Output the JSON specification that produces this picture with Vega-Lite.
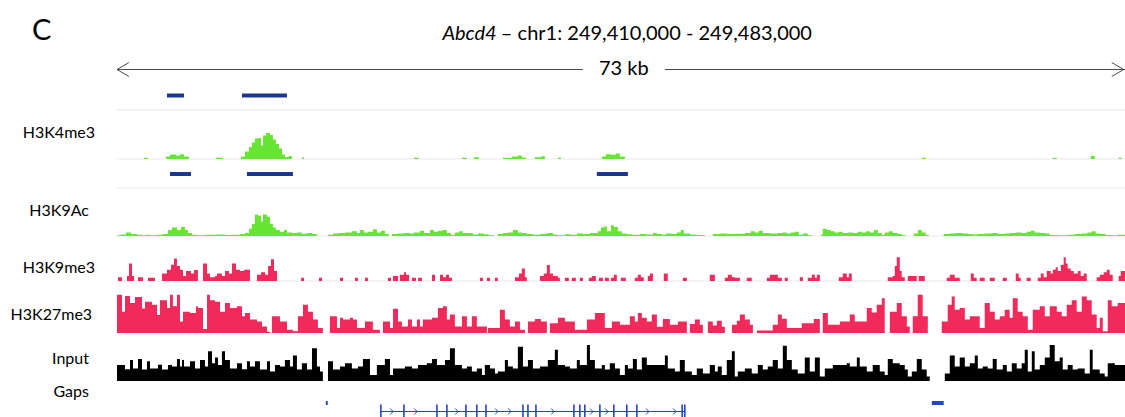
{
"$schema":"https://vega.github.io/schema/vega-lite/v6.json",
"width":1125,"height":417,"autosize":{"type":"none"},"padding":0,"background":"white",
"config":{"view":{"stroke":null},"font":"Lato","axisX":{"disable":true},"text":{"font":"Lato"}},
"datasets":{
"k4":[{"x":0,"v":0},{"x":1.95,"v":0.4},{"x":2.24,"v":0},{"x":3.55,"v":0.8},{"x":3.84,"v":1.5},{"x":4.27,"v":1.2},{"x":4.56,"v":1.6},{"x":4.85,"v":0.8},{"x":5.21,"v":0},{"x":7.17,"v":0.4},{"x":7.67,"v":0},{"x":8.98,"v":0.8},{"x":9.27,"v":2.5},{"x":9.56,"v":4},{"x":9.77,"v":5.5},{"x":9.99,"v":6.8},{"x":10.21,"v":7},{"x":10.43,"v":4.5},{"x":10.57,"v":7.8},{"x":10.79,"v":8.7},{"x":11.08,"v":8},{"x":11.29,"v":6.5},{"x":11.51,"v":5},{"x":11.73,"v":3.5},{"x":11.95,"v":1.5},{"x":12.16,"v":0.7},{"x":12.45,"v":1},{"x":12.67,"v":0},{"x":13.39,"v":0.5},{"x":13.54,"v":0},{"x":21.5,"v":0.4},{"x":21.86,"v":0},{"x":24.98,"v":0.4},{"x":25.34,"v":0},{"x":25.85,"v":0.6},{"x":26.21,"v":0},{"x":27.95,"v":0.4},{"x":28.6,"v":0.8},{"x":29.03,"v":1.2},{"x":29.32,"v":0.5},{"x":29.61,"v":0},{"x":30.26,"v":0.6},{"x":30.7,"v":0.9},{"x":30.99,"v":0},{"x":31.93,"v":0.4},{"x":32.15,"v":0},{"x":35.11,"v":0.8},{"x":35.4,"v":1.6},{"x":35.77,"v":1.4},{"x":36.13,"v":1.8},{"x":36.42,"v":0.8},{"x":36.78,"v":0},{"x":58.28,"v":0.4},{"x":58.57,"v":0},{"x":67.77,"v":0.4},{"x":68.06,"v":0},{"x":70.52,"v":1},{"x":70.81,"v":0},{"x":72.54,"v":0.4},{"x":72.76,"v":0},{"x":73,"v":0}],
"k9ac":[{"x":0,"v":0.3},{"x":0.29,"v":0.6},{"x":0.65,"v":1.5},{"x":1.01,"v":0.8},{"x":1.45,"v":0.5},{"x":1.81,"v":0.3},{"x":2.1,"v":0.5},{"x":2.39,"v":0.3},{"x":2.9,"v":0.5},{"x":3.33,"v":0.8},{"x":3.69,"v":2.5},{"x":3.98,"v":3.5},{"x":4.34,"v":2.5},{"x":4.63,"v":3.8},{"x":4.92,"v":2.5},{"x":5.14,"v":1.2},{"x":5.43,"v":0.5},{"x":5.79,"v":0.3},{"x":6.37,"v":0.5},{"x":7.1,"v":0.6},{"x":7.82,"v":0.4},{"x":8.33,"v":0.5},{"x":8.91,"v":0.8},{"x":9.27,"v":1.2},{"x":9.56,"v":3},{"x":9.77,"v":5},{"x":9.99,"v":9},{"x":10.21,"v":8.5},{"x":10.43,"v":6},{"x":10.57,"v":9},{"x":10.86,"v":8},{"x":11.08,"v":5},{"x":11.29,"v":3.5},{"x":11.51,"v":2.5},{"x":11.8,"v":1.8},{"x":12.09,"v":2.5},{"x":12.31,"v":1.5},{"x":12.67,"v":1.2},{"x":13.03,"v":1.5},{"x":13.39,"v":0.9},{"x":13.76,"v":1.2},{"x":14.12,"v":0.8},{"x":14.48,"v":0},{"x":15.28,"v":0.5},{"x":15.64,"v":1},{"x":16,"v":1.2},{"x":16.51,"v":1.5},{"x":17.01,"v":2},{"x":17.38,"v":1.2},{"x":17.59,"v":2.5},{"x":17.88,"v":1.5},{"x":18.17,"v":1.8},{"x":18.53,"v":2.8},{"x":18.82,"v":1.5},{"x":19.11,"v":2.2},{"x":19.4,"v":0.8},{"x":19.69,"v":0},{"x":19.91,"v":0.8},{"x":20.34,"v":1},{"x":20.78,"v":1.3},{"x":21.21,"v":1},{"x":21.5,"v":1.5},{"x":21.94,"v":2.2},{"x":22.23,"v":1.2},{"x":22.66,"v":2.5},{"x":22.95,"v":1.8},{"x":23.24,"v":2.2},{"x":23.6,"v":2.5},{"x":23.89,"v":1.2},{"x":24.18,"v":0.5},{"x":24.47,"v":1.5},{"x":24.76,"v":2},{"x":25.05,"v":1.2},{"x":25.34,"v":1.2},{"x":25.77,"v":0.6},{"x":26.14,"v":1},{"x":26.57,"v":0.7},{"x":26.93,"v":0.3},{"x":27.29,"v":0},{"x":27.58,"v":0.8},{"x":27.95,"v":1.2},{"x":28.31,"v":1.5},{"x":28.67,"v":2.5},{"x":29.03,"v":1.5},{"x":29.32,"v":1.2},{"x":29.68,"v":0.8},{"x":30.12,"v":0.5},{"x":30.63,"v":0.8},{"x":31.13,"v":1.2},{"x":31.57,"v":0.6},{"x":31.86,"v":0.3},{"x":32.44,"v":0.7},{"x":32.87,"v":0.5},{"x":33.3,"v":1},{"x":33.74,"v":0.8},{"x":34.25,"v":1.2},{"x":34.82,"v":2},{"x":35.04,"v":3.5},{"x":35.26,"v":4},{"x":35.48,"v":2},{"x":35.77,"v":4.5},{"x":35.98,"v":3.8},{"x":36.27,"v":2},{"x":36.56,"v":1},{"x":36.92,"v":0.7},{"x":37.29,"v":0.5},{"x":37.87,"v":0.8},{"x":38.3,"v":0.6},{"x":38.81,"v":1.2},{"x":39.1,"v":0.8},{"x":39.46,"v":0.5},{"x":39.75,"v":1},{"x":40.18,"v":0.8},{"x":40.54,"v":1.5},{"x":40.83,"v":2.5},{"x":41.05,"v":1},{"x":41.49,"v":0.6},{"x":41.92,"v":0.4},{"x":42.57,"v":0},{"x":43.15,"v":0.8},{"x":43.66,"v":1},{"x":44.16,"v":0.8},{"x":44.74,"v":0.9},{"x":45.47,"v":1.2},{"x":45.9,"v":2},{"x":46.19,"v":1.5},{"x":46.48,"v":2.2},{"x":46.77,"v":1.2},{"x":47.28,"v":1},{"x":47.86,"v":1.2},{"x":48.22,"v":1.5},{"x":48.51,"v":1},{"x":48.8,"v":1.5},{"x":49.09,"v":1.8},{"x":49.38,"v":0.5},{"x":49.67,"v":1},{"x":50.03,"v":0.3},{"x":50.32,"v":0},{"x":50.97,"v":0.5},{"x":51.11,"v":3},{"x":51.4,"v":2.5},{"x":51.69,"v":2},{"x":51.98,"v":1.5},{"x":52.27,"v":1.8},{"x":52.56,"v":1.2},{"x":52.92,"v":1.5},{"x":53.29,"v":1.3},{"x":53.65,"v":1.8},{"x":53.94,"v":1.5},{"x":54.23,"v":2},{"x":54.52,"v":1.5},{"x":54.81,"v":2.5},{"x":55.1,"v":1.2},{"x":55.39,"v":0.5},{"x":55.6,"v":1.5},{"x":55.89,"v":2},{"x":56.18,"v":1.2},{"x":56.54,"v":0.8},{"x":56.83,"v":0.3},{"x":57.12,"v":0},{"x":57.7,"v":1},{"x":57.99,"v":2.5},{"x":58.28,"v":1.5},{"x":58.57,"v":0.5},{"x":58.79,"v":0},{"x":59.87,"v":0.8},{"x":60.31,"v":1},{"x":60.74,"v":1.2},{"x":61.25,"v":1},{"x":61.61,"v":0.8},{"x":61.97,"v":0.6},{"x":62.34,"v":0.8},{"x":62.84,"v":1},{"x":63.35,"v":1.2},{"x":63.78,"v":0.8},{"x":64.22,"v":1},{"x":64.65,"v":1.2},{"x":65.09,"v":1.5},{"x":65.52,"v":1.3},{"x":65.88,"v":1.8},{"x":66.17,"v":2.2},{"x":66.46,"v":1.5},{"x":66.83,"v":1.2},{"x":67.19,"v":1},{"x":67.55,"v":0.4},{"x":68.13,"v":0.3},{"x":68.85,"v":0.5},{"x":69.36,"v":0.8},{"x":69.87,"v":1},{"x":70.3,"v":1.5},{"x":70.59,"v":2},{"x":70.88,"v":1},{"x":71.24,"v":0.8},{"x":71.6,"v":0.4},{"x":72.04,"v":0.3},{"x":72.47,"v":0.5},{"x":73,"v":0}],
"k9me3":[{"x":0,"v":0},{"x":0.07,"v":1.5},{"x":0.36,"v":0},{"x":0.72,"v":2},{"x":0.87,"v":7},{"x":1.09,"v":2},{"x":1.23,"v":0},{"x":1.52,"v":1.5},{"x":1.88,"v":0},{"x":2.24,"v":1.3},{"x":2.75,"v":0},{"x":3.26,"v":3},{"x":3.62,"v":4.5},{"x":3.91,"v":6.5},{"x":4.13,"v":9},{"x":4.34,"v":6},{"x":4.56,"v":4.5},{"x":4.78,"v":2},{"x":5,"v":4},{"x":5.36,"v":3},{"x":5.57,"v":4.4},{"x":5.86,"v":0},{"x":6.23,"v":7},{"x":6.52,"v":3},{"x":6.73,"v":1.5},{"x":7.1,"v":2},{"x":7.24,"v":3},{"x":7.6,"v":2},{"x":7.82,"v":4},{"x":8.11,"v":3},{"x":8.33,"v":7},{"x":8.62,"v":4.5},{"x":8.91,"v":4},{"x":9.19,"v":4.5},{"x":9.63,"v":0},{"x":10.14,"v":2.5},{"x":10.43,"v":3.5},{"x":10.72,"v":2.5},{"x":10.94,"v":6},{"x":11.15,"v":8.7},{"x":11.37,"v":4},{"x":11.59,"v":0},{"x":13.33,"v":1.3},{"x":13.54,"v":0},{"x":14.63,"v":1.3},{"x":14.85,"v":0},{"x":16.15,"v":1.3},{"x":16.37,"v":0},{"x":17.24,"v":1.3},{"x":17.45,"v":0},{"x":17.96,"v":1.3},{"x":18.17,"v":0},{"x":19.62,"v":1.3},{"x":19.84,"v":0},{"x":19.99,"v":2},{"x":20.35,"v":0},{"x":20.49,"v":2.5},{"x":20.78,"v":3.5},{"x":20.93,"v":2.5},{"x":21.15,"v":0},{"x":21.36,"v":1.3},{"x":21.65,"v":0},{"x":21.8,"v":1.3},{"x":22.08,"v":0},{"x":22.81,"v":2.5},{"x":23.03,"v":0},{"x":23.39,"v":2.5},{"x":23.61,"v":1.5},{"x":23.82,"v":2.5},{"x":24.04,"v":1.3},{"x":24.26,"v":0},{"x":26.28,"v":1.3},{"x":26.5,"v":0},{"x":26.79,"v":1.3},{"x":27.01,"v":0},{"x":27.37,"v":1.3},{"x":27.58,"v":0},{"x":28.82,"v":1.5},{"x":29.11,"v":3},{"x":29.32,"v":5},{"x":29.54,"v":1.5},{"x":29.68,"v":0},{"x":30.63,"v":2},{"x":30.91,"v":3},{"x":31.13,"v":6.4},{"x":31.35,"v":3},{"x":31.57,"v":2},{"x":31.93,"v":1.3},{"x":32.07,"v":0},{"x":32.44,"v":1.3},{"x":32.72,"v":0},{"x":32.94,"v":1.3},{"x":33.23,"v":0},{"x":33.52,"v":1.3},{"x":33.74,"v":0},{"x":34.17,"v":1.3},{"x":34.39,"v":2},{"x":34.68,"v":0},{"x":34.9,"v":1.3},{"x":35.19,"v":0},{"x":35.33,"v":1.3},{"x":35.62,"v":0},{"x":35.77,"v":1.3},{"x":35.98,"v":2.5},{"x":36.2,"v":0},{"x":36.49,"v":1.3},{"x":36.85,"v":0},{"x":37.5,"v":1.3},{"x":37.72,"v":2.5},{"x":37.94,"v":1.5},{"x":38.15,"v":0},{"x":38.44,"v":2},{"x":38.59,"v":3},{"x":38.81,"v":0},{"x":39.6,"v":3},{"x":39.89,"v":0},{"x":40.98,"v":1.3},{"x":41.27,"v":0},{"x":42.93,"v":2.5},{"x":43.3,"v":0},{"x":44.02,"v":1.3},{"x":44.24,"v":2.5},{"x":44.53,"v":1.5},{"x":44.74,"v":1.3},{"x":45.11,"v":0},{"x":45.61,"v":1.3},{"x":45.97,"v":0},{"x":47.06,"v":1.3},{"x":47.28,"v":2.5},{"x":47.86,"v":1.3},{"x":48.15,"v":0},{"x":48.36,"v":1.3},{"x":48.58,"v":0},{"x":49.45,"v":1.5},{"x":49.67,"v":0},{"x":50.03,"v":1.3},{"x":50.32,"v":2.5},{"x":50.54,"v":1.3},{"x":50.68,"v":2.5},{"x":50.9,"v":0},{"x":52.27,"v":1.5},{"x":52.56,"v":3},{"x":52.85,"v":1.5},{"x":53,"v":3},{"x":53.21,"v":0},{"x":55.82,"v":1.5},{"x":56.18,"v":2},{"x":56.33,"v":6},{"x":56.47,"v":9.5},{"x":56.69,"v":4},{"x":56.83,"v":1.5},{"x":57.05,"v":0},{"x":57.27,"v":2},{"x":57.92,"v":0},{"x":58.06,"v":2},{"x":58.5,"v":0},{"x":60.09,"v":1.3},{"x":60.31,"v":2.5},{"x":60.67,"v":1.3},{"x":61.03,"v":0},{"x":61.83,"v":3},{"x":62.05,"v":1.3},{"x":62.26,"v":0},{"x":62.48,"v":1.3},{"x":62.84,"v":0},{"x":63.21,"v":1.3},{"x":63.57,"v":0},{"x":64.15,"v":1.3},{"x":64.44,"v":0},{"x":65.09,"v":3},{"x":65.3,"v":1.3},{"x":65.45,"v":0},{"x":65.88,"v":1.3},{"x":66.17,"v":0},{"x":66.68,"v":1.3},{"x":66.9,"v":3},{"x":67.11,"v":1.5},{"x":67.33,"v":4},{"x":67.62,"v":3},{"x":67.77,"v":4.5},{"x":67.98,"v":5.5},{"x":68.13,"v":4},{"x":68.35,"v":6.5},{"x":68.56,"v":9.5},{"x":68.71,"v":7},{"x":68.85,"v":5},{"x":69.07,"v":4},{"x":69.29,"v":3},{"x":69.58,"v":4},{"x":69.79,"v":2},{"x":70.01,"v":3},{"x":70.23,"v":0},{"x":70.95,"v":1.5},{"x":71.17,"v":2.5},{"x":71.46,"v":3.5},{"x":71.68,"v":4.5},{"x":71.89,"v":2.5},{"x":72.11,"v":0},{"x":72.54,"v":2},{"x":72.69,"v":4},{"x":73,"v":0}],
"k27":[{"x":0,"v":9.3},{"x":0.36,"v":5.2},{"x":0.58,"v":9},{"x":0.94,"v":7.3},{"x":1.3,"v":8.8},{"x":1.81,"v":6},{"x":2.03,"v":7.6},{"x":2.53,"v":6.9},{"x":2.9,"v":4.4},{"x":3.11,"v":8},{"x":3.62,"v":6.1},{"x":3.84,"v":9.3},{"x":4.05,"v":6.5},{"x":4.34,"v":9.3},{"x":4.56,"v":2.8},{"x":4.78,"v":5.2},{"x":5.29,"v":4.9},{"x":5.72,"v":6.5},{"x":5.86,"v":6.1},{"x":6.23,"v":1},{"x":6.52,"v":9.3},{"x":6.73,"v":8},{"x":7.1,"v":7.6},{"x":7.46,"v":5.2},{"x":7.82,"v":7.3},{"x":8.18,"v":6.1},{"x":8.69,"v":6.5},{"x":9.05,"v":4.1},{"x":9.27,"v":4.9},{"x":9.63,"v":3.3},{"x":10.14,"v":2.8},{"x":10.5,"v":1.6},{"x":10.86,"v":0.3},{"x":11.08,"v":0},{"x":11.22,"v":4.1},{"x":11.8,"v":2.8},{"x":12.31,"v":0.8},{"x":12.74,"v":0.4},{"x":13.1,"v":4.1},{"x":13.47,"v":6.9},{"x":13.83,"v":5.2},{"x":14.19,"v":3.3},{"x":14.55,"v":1.2},{"x":14.91,"v":0},{"x":15.42,"v":4.1},{"x":15.93,"v":1.2},{"x":16.15,"v":3.7},{"x":16.37,"v":3.3},{"x":16.87,"v":3.7},{"x":17.09,"v":3.3},{"x":17.38,"v":1.2},{"x":17.96,"v":2.8},{"x":18.53,"v":0.8},{"x":19.04,"v":0},{"x":19.26,"v":2.8},{"x":19.77,"v":1.2},{"x":19.99,"v":5.9},{"x":20.35,"v":2.8},{"x":20.63,"v":1.6},{"x":21.07,"v":3.3},{"x":21.36,"v":1.6},{"x":21.72,"v":3.3},{"x":21.94,"v":1.6},{"x":22.15,"v":3.3},{"x":22.81,"v":3.7},{"x":23.24,"v":6.1},{"x":23.61,"v":6.5},{"x":23.89,"v":3.3},{"x":24.11,"v":4.5},{"x":24.47,"v":1.6},{"x":24.98,"v":4.1},{"x":25.34,"v":1.6},{"x":25.7,"v":4.1},{"x":26.06,"v":1.6},{"x":26.79,"v":0},{"x":26.86,"v":1.2},{"x":27.73,"v":5.7},{"x":28.09,"v":3.3},{"x":28.45,"v":1.6},{"x":28.82,"v":2.8},{"x":29.18,"v":0.8},{"x":29.54,"v":0},{"x":29.76,"v":2.8},{"x":30.26,"v":3.4},{"x":30.7,"v":2.8},{"x":31.13,"v":0},{"x":31.35,"v":2.4},{"x":31.93,"v":3.7},{"x":32.44,"v":2.8},{"x":33.16,"v":0.8},{"x":34.03,"v":3.3},{"x":34.61,"v":4.9},{"x":35.33,"v":1.2},{"x":35.84,"v":2.8},{"x":36.42,"v":2},{"x":37.14,"v":4.1},{"x":37.5,"v":2.8},{"x":37.72,"v":4.9},{"x":38.01,"v":3.7},{"x":38.37,"v":2.8},{"x":38.73,"v":4.5},{"x":39.1,"v":1.5},{"x":39.53,"v":3.4},{"x":40.04,"v":2},{"x":40.62,"v":2.8},{"x":41.27,"v":0},{"x":41.49,"v":2.2},{"x":41.85,"v":3.3},{"x":42.21,"v":2},{"x":42.43,"v":0},{"x":42.79,"v":2.8},{"x":43.15,"v":1.8},{"x":43.44,"v":3},{"x":43.8,"v":1.5},{"x":44.02,"v":0},{"x":44.53,"v":2},{"x":44.89,"v":3},{"x":45.11,"v":4.5},{"x":45.47,"v":3.3},{"x":45.83,"v":2},{"x":46.05,"v":0},{"x":46.34,"v":0.6},{"x":47.49,"v":2},{"x":47.86,"v":4.5},{"x":48.15,"v":3.5},{"x":48.51,"v":1.2},{"x":49.59,"v":2.4},{"x":50.46,"v":3.4},{"x":50.9,"v":0},{"x":51.11,"v":4.9},{"x":51.48,"v":2},{"x":52.35,"v":2.8},{"x":53.07,"v":4.5},{"x":53.43,"v":2.8},{"x":54.3,"v":6.1},{"x":54.66,"v":5},{"x":55.02,"v":6.9},{"x":55.39,"v":8.5},{"x":55.6,"v":0},{"x":55.97,"v":5.2},{"x":56.47,"v":7.3},{"x":56.83,"v":4.1},{"x":57.2,"v":1.6},{"x":57.41,"v":0},{"x":57.63,"v":4.1},{"x":57.99,"v":9.3},{"x":58.35,"v":4.1},{"x":58.72,"v":0},{"x":59.73,"v":2.8},{"x":60.16,"v":6.9},{"x":60.45,"v":8.9},{"x":60.67,"v":5.7},{"x":61.03,"v":6.1},{"x":61.4,"v":3.3},{"x":61.76,"v":4.1},{"x":62.48,"v":1.2},{"x":62.84,"v":7.3},{"x":63.21,"v":5.2},{"x":63.57,"v":3.3},{"x":63.93,"v":4.1},{"x":64.29,"v":5.7},{"x":64.65,"v":3.7},{"x":64.87,"v":8.5},{"x":65.23,"v":5.2},{"x":65.59,"v":4.1},{"x":65.96,"v":0.8},{"x":66.32,"v":5.7},{"x":66.83,"v":6.5},{"x":67.19,"v":4.1},{"x":67.55,"v":6.5},{"x":68.06,"v":5.2},{"x":68.42,"v":4.1},{"x":68.78,"v":6.9},{"x":69.14,"v":8},{"x":69.5,"v":5.2},{"x":69.87,"v":8.9},{"x":70.23,"v":8},{"x":70.59,"v":4.5},{"x":70.95,"v":1.2},{"x":71.17,"v":3.7},{"x":71.39,"v":0.4},{"x":71.75,"v":8},{"x":72.04,"v":6.5},{"x":72.47,"v":7.3},{"x":73,"v":0}],
"inp":[{"x":0,"v":4.2},{"x":0.58,"v":3.1},{"x":0.94,"v":5.5},{"x":1.16,"v":3.3},{"x":1.52,"v":5.8},{"x":1.81,"v":3},{"x":2.17,"v":5.2},{"x":2.39,"v":3.3},{"x":2.97,"v":4.3},{"x":3.26,"v":3},{"x":3.69,"v":4.2},{"x":3.98,"v":3.8},{"x":4.34,"v":5.8},{"x":4.56,"v":3.8},{"x":4.71,"v":5.5},{"x":4.85,"v":3.8},{"x":5.29,"v":5.2},{"x":5.65,"v":3.3},{"x":6.01,"v":5.5},{"x":6.37,"v":3.8},{"x":6.59,"v":7.8},{"x":6.88,"v":4.7},{"x":7.1,"v":6.2},{"x":7.31,"v":4.2},{"x":7.6,"v":7.8},{"x":7.82,"v":5.5},{"x":8.18,"v":3.3},{"x":8.69,"v":4.7},{"x":9.05,"v":3.1},{"x":9.41,"v":5.2},{"x":9.63,"v":3.8},{"x":9.99,"v":5.2},{"x":10.35,"v":3},{"x":10.86,"v":5.2},{"x":11.08,"v":2.5},{"x":11.44,"v":4.2},{"x":11.8,"v":3.8},{"x":12.16,"v":5.5},{"x":12.53,"v":3.8},{"x":12.74,"v":6.7},{"x":13.03,"v":3},{"x":13.39,"v":4.7},{"x":13.76,"v":3},{"x":14.12,"v":8.6},{"x":14.48,"v":3.8},{"x":14.7,"v":2.5},{"x":14.91,"v":0},{"x":15.28,"v":5.2},{"x":15.64,"v":3},{"x":16.15,"v":3.8},{"x":16.51,"v":4.7},{"x":17.01,"v":3.3},{"x":17.45,"v":3.8},{"x":17.81,"v":5.8},{"x":18.32,"v":1.6},{"x":18.82,"v":4.2},{"x":19.4,"v":5.8},{"x":19.77,"v":1.6},{"x":19.99,"v":3.3},{"x":20.85,"v":3.8},{"x":21.36,"v":3.3},{"x":21.8,"v":4.2},{"x":22.44,"v":4.7},{"x":22.81,"v":5.8},{"x":23.17,"v":4.2},{"x":23.75,"v":5.5},{"x":24.11,"v":8.6},{"x":24.47,"v":4.2},{"x":24.98,"v":3.3},{"x":25.34,"v":3.8},{"x":25.7,"v":2.5},{"x":26.06,"v":3.3},{"x":26.43,"v":1.6},{"x":26.64,"v":4.2},{"x":27.01,"v":3.3},{"x":27.37,"v":2},{"x":27.58,"v":2.5},{"x":28.09,"v":5.5},{"x":28.31,"v":3.8},{"x":28.67,"v":3.3},{"x":29.03,"v":9},{"x":29.4,"v":3.8},{"x":29.76,"v":5.5},{"x":30.12,"v":3.3},{"x":30.63,"v":3.8},{"x":31.2,"v":5.5},{"x":31.71,"v":8.2},{"x":31.93,"v":4.2},{"x":32.44,"v":3.8},{"x":32.8,"v":3.3},{"x":33.3,"v":5.5},{"x":33.52,"v":4.2},{"x":34.03,"v":9.5},{"x":34.25,"v":5.5},{"x":34.61,"v":3.3},{"x":35.11,"v":4.2},{"x":35.33,"v":3},{"x":35.69,"v":4.7},{"x":36.06,"v":3.3},{"x":36.42,"v":1.6},{"x":36.78,"v":4.2},{"x":37,"v":3.3},{"x":37.36,"v":5.8},{"x":37.65,"v":3},{"x":38.01,"v":6.2},{"x":38.37,"v":4.2},{"x":39.68,"v":6.7},{"x":39.89,"v":3.3},{"x":40.4,"v":2.5},{"x":40.76,"v":5.5},{"x":41.12,"v":2.5},{"x":41.63,"v":1.6},{"x":41.99,"v":3.3},{"x":42.43,"v":2},{"x":42.93,"v":4.2},{"x":43.3,"v":2.5},{"x":43.51,"v":3.8},{"x":43.8,"v":1.6},{"x":44.16,"v":5.5},{"x":44.53,"v":7.8},{"x":44.74,"v":1.2},{"x":44.96,"v":2.5},{"x":45.47,"v":3.3},{"x":45.97,"v":2},{"x":46.41,"v":4.2},{"x":46.77,"v":3},{"x":47.13,"v":3.8},{"x":47.49,"v":5.5},{"x":47.86,"v":3.3},{"x":48.22,"v":9.3},{"x":48.51,"v":5.5},{"x":48.87,"v":3},{"x":49.3,"v":2},{"x":49.81,"v":6.2},{"x":50.17,"v":2.5},{"x":50.54,"v":6.2},{"x":50.9,"v":1.2},{"x":51.26,"v":3.3},{"x":51.84,"v":4.2},{"x":52.85,"v":4.7},{"x":53.07,"v":3.8},{"x":53.58,"v":6.2},{"x":53.79,"v":3.8},{"x":54.3,"v":2.5},{"x":54.73,"v":4.2},{"x":55.24,"v":2.5},{"x":55.6,"v":1.6},{"x":55.82,"v":5.8},{"x":56.18,"v":4.7},{"x":56.69,"v":4.2},{"x":57.05,"v":3},{"x":57.27,"v":1.2},{"x":57.56,"v":2.5},{"x":57.92,"v":5.8},{"x":58.28,"v":3},{"x":58.64,"v":1.2},{"x":58.86,"v":0},{"x":59.95,"v":2},{"x":60.31,"v":6.7},{"x":60.67,"v":3.8},{"x":61.03,"v":6.2},{"x":61.4,"v":3.8},{"x":61.76,"v":4.7},{"x":62.12,"v":6.7},{"x":62.34,"v":3.3},{"x":62.7,"v":3.8},{"x":63.06,"v":3.3},{"x":63.42,"v":5.8},{"x":63.71,"v":3},{"x":64.15,"v":4.2},{"x":64.44,"v":2.5},{"x":64.8,"v":4.7},{"x":65.16,"v":3.3},{"x":65.52,"v":4.7},{"x":65.74,"v":8.2},{"x":65.96,"v":2.5},{"x":66.25,"v":7.8},{"x":66.46,"v":3},{"x":66.83,"v":4.2},{"x":67.19,"v":6.2},{"x":67.55,"v":9.5},{"x":67.91,"v":5.2},{"x":68.27,"v":6.2},{"x":68.49,"v":3},{"x":68.85,"v":4.2},{"x":69.21,"v":3},{"x":69.58,"v":3.3},{"x":70.08,"v":2},{"x":70.45,"v":8.2},{"x":70.66,"v":3},{"x":71.17,"v":2},{"x":71.53,"v":1.2},{"x":71.75,"v":4.7},{"x":72.26,"v":4.2},{"x":73,"v":0}],
"peaks":[{"set":"A","s":3.62,"e":4.85},{"set":"A","s":9.05,"e":12.31},{"set":"B","s":3.84,"e":5.36},{"set":"B","s":9.41,"e":12.74},{"set":"B","s":34.75,"e":37.0}],
"gaps":[{"s":15.12,"e":15.26},{"s":59.01,"e":59.87}],
"exons":[{"x":19.11},{"x":20.78},{"x":23.17},{"x":23.89},{"x":25.27},{"x":26.06},{"x":26.72},{"x":29.4},{"x":29.76},{"x":30.34},{"x":33.09},{"x":33.52},{"x":33.88},{"x":34.97},{"x":35.98},{"x":36.92},{"x":37.65},{"x":40.93},{"x":41.12}],
"arrows":[{"x":19.91},{"x":21.65},{"x":24.62},{"x":27.51},{"x":28.45},{"x":31.57},{"x":34.39},{"x":35.48},{"x":38.44},{"x":40.4}]
},
"resolve":{"scale":{"y":"independent"},"axis":{"y":"independent"}},
"layer":[
{"layer":[
 {"data":{"values":[{}]},"mark":{"type":"rule","color":"#e9e9e9","strokeWidth":1},"encoding":{"x":{"datum":0,"type":"quantitative","scale":{"domain":[0,73],"range":[117,1125],"nice":false,"zero":false}},"x2":{"datum":73},"y":{"datum":110,"type":"quantitative","scale":{"domain":[0,417],"range":[0,417],"nice":false,"zero":false},"axis":null}}},
 {"data":{"values":[{}]},"mark":{"type":"rule","color":"#e9e9e9","strokeWidth":1},"encoding":{"x":{"datum":0,"type":"quantitative"},"x2":{"datum":73},"y":{"datum":188,"type":"quantitative","axis":null}}},
 {"data":{"values":[{"s":0,"e":33.74},{"s":39.68,"e":73}]},"mark":{"type":"rule","color":"#4a4a4a","strokeWidth":1.2},"encoding":{"x":{"field":"s","type":"quantitative"},"x2":{"field":"e"},"y":{"datum":69.5,"type":"quantitative","axis":null}}},
 {"data":{"values":[{"x":0}]},"mark":{"type":"point","shape":"M 1.7 -1 L 0 0 L 1.7 1","size":196,"filled":false,"stroke":"#4a4a4a","strokeWidth":1,"opacity":1},"encoding":{"x":{"field":"x","type":"quantitative"},"y":{"datum":69.5,"type":"quantitative","axis":null}}},
 {"data":{"values":[{"x":72.9}]},"mark":{"type":"point","shape":"M -1.7 -1 L 0 0 L -1.7 1","size":196,"filled":false,"stroke":"#4a4a4a","strokeWidth":1,"opacity":1},"encoding":{"x":{"field":"x","type":"quantitative"},"y":{"datum":69.5,"type":"quantitative","axis":null}}},
 {"data":{"values":[{"t":"73 kb"}]},"mark":{"type":"text","fontSize":20,"align":"center","baseline":"middle","color":"#000000","font":"Lato"},"encoding":{"text":{"field":"t"},"x":{"datum":36.7,"type":"quantitative"},"y":{"datum":69,"type":"quantitative","axis":null}}},
 {"data":{"values":[{"t":"C"}]},"mark":{"type":"text","fontSize":29,"align":"left","baseline":"middle","color":"#000000","font":"Lato"},"encoding":{"text":{"field":"t"},"x":{"datum":-6.15,"type":"quantitative"},"y":{"datum":31,"type":"quantitative","axis":null}}},
 {"data":{"values":[{"t":"Abcd4"}]},"mark":{"type":"text","fontSize":20,"fontStyle":"italic","align":"right","baseline":"middle","color":"#000000","font":"Lato"},"encoding":{"text":{"field":"t"},"x":{"datum":27.5,"type":"quantitative"},"y":{"datum":33.5,"type":"quantitative","axis":null}}},
 {"data":{"values":[{"t":"– chr1: 249,410,000 - 249,483,000"}]},"mark":{"type":"text","fontSize":20,"align":"left","baseline":"middle","color":"#000000","font":"Lato"},"encoding":{"text":{"field":"t"},"x":{"datum":27.8,"type":"quantitative"},"y":{"datum":33.5,"type":"quantitative","axis":null}}},
 {"data":{"values":[{"t":"H3K4me3"}]},"mark":{"type":"text","fontSize":16,"align":"right","baseline":"middle","color":"#000000","font":"Lato"},"encoding":{"text":{"field":"t"},"x":{"datum":-1.59,"type":"quantitative"},"y":{"datum":133,"type":"quantitative","axis":null}}},
 {"data":{"values":[{"t":"H3K9Ac"}]},"mark":{"type":"text","fontSize":16,"align":"right","baseline":"middle","color":"#000000","font":"Lato"},"encoding":{"text":{"field":"t"},"x":{"datum":-2.03,"type":"quantitative"},"y":{"datum":211,"type":"quantitative","axis":null}}},
 {"data":{"values":[{"t":"H3K9me3"}]},"mark":{"type":"text","fontSize":16,"align":"right","baseline":"middle","color":"#000000","font":"Lato"},"encoding":{"text":{"field":"t"},"x":{"datum":-1.59,"type":"quantitative"},"y":{"datum":268,"type":"quantitative","axis":null}}},
 {"data":{"values":[{"t":"H3K27me3"}]},"mark":{"type":"text","fontSize":16,"align":"right","baseline":"middle","color":"#000000","font":"Lato"},"encoding":{"text":{"field":"t"},"x":{"datum":-1.8,"type":"quantitative"},"y":{"datum":315,"type":"quantitative","axis":null}}},
 {"data":{"values":[{"t":"Input"}]},"mark":{"type":"text","fontSize":16,"align":"right","baseline":"middle","color":"#000000","font":"Lato"},"encoding":{"text":{"field":"t"},"x":{"datum":-2.03,"type":"quantitative"},"y":{"datum":359,"type":"quantitative","axis":null}}},
 {"data":{"values":[{"t":"Gaps"}]},"mark":{"type":"text","fontSize":16,"align":"right","baseline":"middle","color":"#000000","font":"Lato"},"encoding":{"text":{"field":"t"},"x":{"datum":-2.03,"type":"quantitative"},"y":{"datum":392,"type":"quantitative","axis":null}}},
 {"data":{"name":"gaps"},"mark":{"type":"rule","color":"#2146c7","strokeWidth":4,"strokeCap":"butt"},"encoding":{"x":{"field":"s","type":"quantitative"},"x2":{"field":"e"},"y":{"datum":403,"type":"quantitative","axis":null}}},
 {"data":{"values":[{"s":19.11,"e":41.12}]},"mark":{"type":"rule","color":"#2146c7","strokeWidth":1.2},"encoding":{"x":{"field":"s","type":"quantitative"},"x2":{"field":"e"},"y":{"datum":411.5,"type":"quantitative","axis":null}}},
 {"data":{"name":"exons"},"mark":{"type":"rule","color":"#2146c7","strokeWidth":1.6},"encoding":{"x":{"field":"x","type":"quantitative"},"y":{"datum":404.5,"type":"quantitative","axis":null},"y2":{"datum":417.5}}},
 {"data":{"name":"arrows"},"mark":{"type":"point","shape":"M -0.6 -1 L 0.4 0 L -0.6 1","size":36,"filled":false,"stroke":"#2146c7","strokeWidth":1,"opacity":1},"encoding":{"x":{"field":"x","type":"quantitative"},"y":{"datum":411.5,"type":"quantitative","axis":null}}}
]},
{"data":{"name":"peaks"},"mark":{"type":"rule","color":"#1c3696","strokeWidth":4,"strokeCap":"butt"},"encoding":{"x":{"field":"s","type":"quantitative","scale":{"domain":[0,73],"range":[117,1125],"nice":false,"zero":false}},"x2":{"field":"e"},"y":{"field":"set","type":"nominal","scale":{"type":"point","domain":["A","B"],"range":[95.5,174],"padding":0},"axis":null}}},
{"layer":[
 {"data":{"values":[{}]},"mark":{"type":"rule","color":"#e9e9e9","strokeWidth":1},"encoding":{"x":{"datum":0,"type":"quantitative"},"x2":{"datum":73},"y":{"datum":0,"type":"quantitative","scale":{"domain":[0,10],"range":[159,129],"nice":false},"axis":null}}},
 {"data":{"name":"k4"},"mark":{"type":"area","interpolate":"step-after","color":"#66e633"},"encoding":{"x":{"field":"x","type":"quantitative"},"y":{"field":"v","type":"quantitative","stack":null,"axis":null}}}
]},
{"layer":[
 {"data":{"values":[{}]},"mark":{"type":"rule","color":"#e9e9e9","strokeWidth":1},"encoding":{"x":{"datum":0,"type":"quantitative"},"x2":{"datum":73},"y":{"datum":0,"type":"quantitative","scale":{"domain":[0,10],"range":[236,212],"nice":false},"axis":null}}},
 {"data":{"name":"k9ac"},"mark":{"type":"area","interpolate":"step-after","color":"#66e633"},"encoding":{"x":{"field":"x","type":"quantitative"},"y":{"field":"v","type":"quantitative","stack":null,"axis":null}}}
]},
{"layer":[
 {"data":{"values":[{}]},"mark":{"type":"rule","color":"#e9e9e9","strokeWidth":1},"encoding":{"x":{"datum":0,"type":"quantitative"},"x2":{"datum":73},"y":{"datum":0,"type":"quantitative","scale":{"domain":[0,10],"range":[281,256],"nice":false},"axis":null}}},
 {"data":{"name":"k9me3"},"mark":{"type":"area","interpolate":"step-after","color":"#f22a5b"},"encoding":{"x":{"field":"x","type":"quantitative"},"y":{"field":"v","type":"quantitative","stack":null,"axis":null}}}
]},
{"data":{"name":"k27"},"mark":{"type":"area","interpolate":"step-after","color":"#f22a5b"},"encoding":{"x":{"field":"x","type":"quantitative"},"y":{"field":"v","type":"quantitative","stack":null,"scale":{"domain":[0,10],"range":[333,292],"nice":false},"axis":null}}},
{"data":{"name":"inp"},"mark":{"type":"area","interpolate":"step-after","color":"#000000"},"encoding":{"x":{"field":"x","type":"quantitative"},"y":{"field":"v","type":"quantitative","stack":null,"scale":{"domain":[0,10],"range":[381,343],"nice":false},"axis":null}}}
]
}
